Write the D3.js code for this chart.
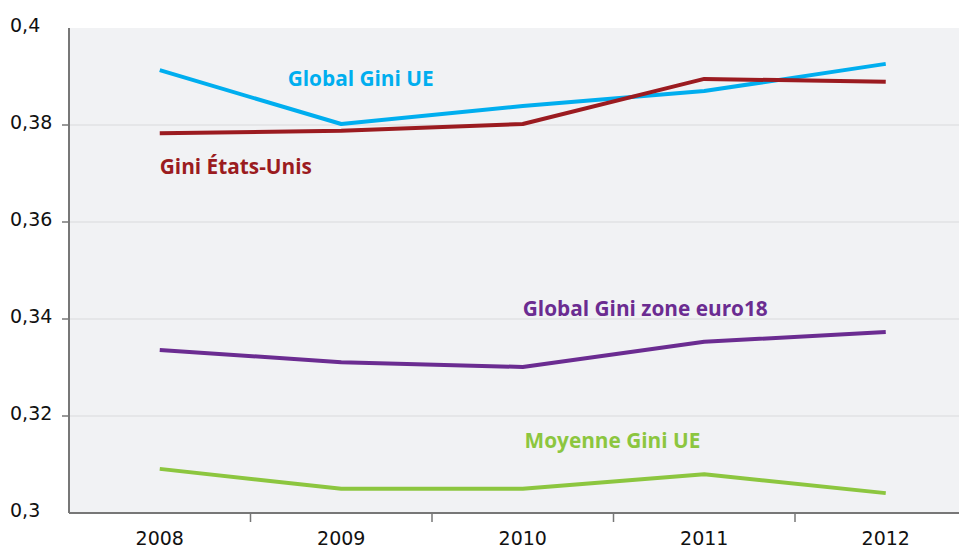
<!DOCTYPE html>
<html>
<head>
<meta charset="utf-8">
<script src="https://cdn.jsdelivr.net/npm/d3@7"></script>
<style>
    body { margin: 0; background: #fff; }
    svg { display: block; font-family: "Open Sans", "Noto Sans", sans-serif; }
</style>
</head>
<body>
<svg width="959" height="548"></svg>
<script>
const years = ["2008", "2009", "2010", "2011", "2012"];
const yTicks = [0.3, 0.32, 0.34, 0.36, 0.38, 0.4];

const globalUE = [0.3913, 0.3802, 0.3839, 0.3870, 0.3926];
const giniUS = [0.3783, 0.3788, 0.3802, 0.3895, 0.3889];
const euro18 = [0.3336, 0.3311, 0.3301, 0.3353, 0.3373];
const moyenneUE = [0.3091, 0.3050, 0.3050, 0.3080, 0.3041];

// lx: label offset in category steps from 2008, ly: label baseline in data units
const series = [
    { name: "Global Gini UE", values: globalUE, color: "#00aeef", lx: 0.705, ly: 0.3880 },
    { name: "Gini États-Unis", values: giniUS, color: "#9b1b20", lx: 0.0, ly: 0.3699 },
    { name: "Global Gini zone euro18", values: euro18, color: "#6b2c91", lx: 2.0, ly: 0.3406 },
    { name: "Moyenne Gini UE", values: moyenneUE, color: "#8cc63f", lx: 2.01, ly: 0.3134 },
];

const svg = d3.select("svg");
const mLeft = 69, mTop = 28, mBottom = 513;
const step = 181.5;

const x = d3.scaleBand().domain(years).range([mLeft, mLeft + step * years.length]);
const y = d3.scaleLinear().domain([0.3, 0.4]).range([mBottom, mTop]);

svg.append("rect")
    .attr("x", mLeft).attr("y", mTop)
    .attr("width", 959 - mLeft).attr("height", mBottom - mTop)
    .attr("fill", "#f1f2f4");

const inner = yTicks.filter((t) => t > 0.3 && t < 0.4);

// grid
svg.append("g")
    .selectAll("line")
    .data(inner)
    .enter()
    .append("line")
    .attr("x1", mLeft).attr("x2", 959)
    .attr("y1", (d) => y(d)).attr("y2", (d) => y(d))
    .attr("stroke", "#d9dadc").attr("stroke-width", 1);

// y axis
const fmt = (d) => String(+d.toFixed(2)).replace(".", ",");
svg.append("line")
    .attr("x1", mLeft).attr("x2", mLeft).attr("y1", mTop).attr("y2", mBottom)
    .attr("stroke", "#777").attr("stroke-width", 2);
svg.append("g")
    .selectAll("line")
    .data(inner)
    .enter()
    .append("line")
    .attr("x1", mLeft - 7).attr("x2", mLeft)
    .attr("y1", (d) => y(d)).attr("y2", (d) => y(d))
    .attr("stroke", "#777").attr("stroke-width", 1.5);
svg.append("g")
    .selectAll("text")
    .data(yTicks)
    .enter()
    .append("text")
    .attr("x", 10)
    .attr("y", (d) => y(d) + 4)
    .attr("font-family", "DejaVu Sans")
    .attr("font-size", 19)
    .attr("fill", "#111")
    .text(fmt);

// x axis
svg.append("line")
    .attr("x1", mLeft).attr("x2", 959).attr("y1", mBottom).attr("y2", mBottom)
    .attr("stroke", "#777").attr("stroke-width", 2);
svg.append("g")
    .selectAll("line")
    .data(years.slice(1))
    .enter()
    .append("line")
    .attr("x1", (d) => x(d)).attr("x2", (d) => x(d))
    .attr("y1", mBottom).attr("y2", mBottom + 9)
    .attr("stroke", "#777").attr("stroke-width", 1.5);
svg.append("g")
    .selectAll("text")
    .data(years)
    .enter()
    .append("text")
    .attr("x", (d) => x(d) + x.bandwidth() / 2)
    .attr("y", 545)
    .attr("text-anchor", "middle")
    .attr("font-family", "DejaVu Sans")
    .attr("font-size", 19)
    .attr("fill", "#111")
    .text((d) => d);

// lines
const line = d3.line()
    .x((d, i) => x(years[i]) + x.bandwidth() / 2)
    .y((d) => y(d));

svg.append("g")
    .selectAll("path")
    .data(series)
    .enter()
    .append("path")
    .attr("d", (d) => line(d.values))
    .attr("fill", "none")
    .attr("stroke", (d) => d.color)
    .attr("stroke-width", 4)
    .attr("stroke-linejoin", "round");

// labels
svg.append("g")
    .selectAll("text")
    .data(series)
    .enter()
    .append("text")
    .attr("x", (d) => x(years[0]) + x.bandwidth() / 2 + d.lx * step)
    .attr("y", (d) => y(d.ly))
    .attr("font-size", 20.8)
    .attr("font-weight", "bold")
    .attr("fill", (d) => d.color)
    .text((d) => d.name);
</script>
</body>
</html>
